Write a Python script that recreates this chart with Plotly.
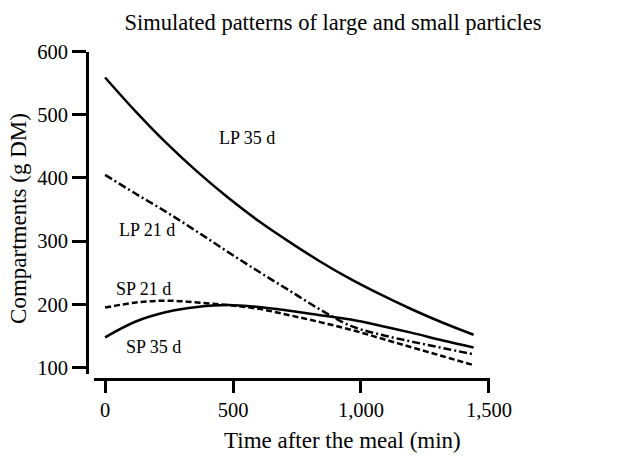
import plotly.graph_objects as go

time_min = [0, 120, 240, 360, 480, 600, 720, 840, 960, 1080, 1200, 1320, 1440]
lp35 = [559, 505, 455, 410, 369, 332, 299, 268, 240, 215, 192, 171, 152]
lp21 = [405, 375, 346, 315, 283, 252, 222, 192, 166, 152, 141, 131, 121]
sp21 = [195, 203, 206, 203, 199, 193, 183, 172, 160, 146, 132, 118, 104]
sp35 = [148, 173, 188, 196, 199, 196, 190, 183, 176, 166, 155, 143, 132]

x_ticks = [0, 500, 1000, 1500]
x_ticklabels = ["0", "500", "1,000", "1,500"]
y_ticks = [100, 200, 300, 400, 500, 600]

curve_labels = ["LP 35 d", "LP 21 d", "SP 21 d", "SP 35 d"]
label_x = [555, 165, 150, 190]
label_y = [463, 318, 224, 133]

FONT = "Liberation Serif"
W, H = 620, 462

fig = go.Figure()
series = [
    (lp35, "solid", "LP 35 d"),
    (lp21, "8px,3px,2px,3px", "LP 21 d"),
    (sp21, "6px,3px", "SP 21 d"),
    (sp35, "solid", "SP 35 d"),
]
for ys, dash, name in series:
    fig.add_trace(go.Scatter(
        x=time_min, y=ys, mode="lines", name=name,
        line=dict(color="black", width=2.5, dash=dash, shape="spline"),
        showlegend=False,
    ))

for t, lx, ly in zip(curve_labels, label_x, label_y):
    fig.add_annotation(x=lx, y=ly, text=t, showarrow=False,
                       font=dict(family=FONT, size=18, color="black"))

# axis titles placed as paper annotations
fig.add_annotation(x=355 / W, y=1 - 445 / H, xref="paper", yref="paper",
                   text="Time after the meal (min)", showarrow=False,
                   xanchor="center", yanchor="middle",
                   font=dict(family=FONT, size=23, color="black"))
fig.add_annotation(x=19 / W, y=1 - 215 / H, xref="paper", yref="paper",
                   text="Compartments (g DM)", showarrow=False, textangle=-90,
                   xanchor="center", yanchor="middle",
                   font=dict(family=FONT, size=23, color="black"))

fig.update_layout(
    width=W, height=H,
    margin=dict(l=0, r=0, t=0, b=0),
    paper_bgcolor="white", plot_bgcolor="white",
    title=dict(text="Simulated patterns of large and small particles",
               x=333 / W, xanchor="center", y=1 - 22 / H, yanchor="middle",
               font=dict(family=FONT, size=22.5, color="black")),
    xaxis=dict(
        domain=[97 / W, 508 / W], range=[-45, 1504],
        anchor="free", position=1 - 381 / H,
        showline=True, linecolor="black", linewidth=2.5,
        ticks="outside", ticklen=12, tickwidth=2.5, tickcolor="black",
        tickvals=x_ticks, ticktext=x_ticklabels,
        tickfont=dict(family=FONT, size=20.5, color="black"),
        showgrid=False, zeroline=False,
    ),
    yaxis=dict(
        domain=[1 - 376 / H, 1 - 42 / H], range=[90, 600],
        anchor="free", position=90 / W,
        showline=True, linecolor="black", linewidth=2.5,
        ticks="outside", ticklen=14, tickwidth=2.5, tickcolor="black",
        tickvals=y_ticks,
        tickfont=dict(family=FONT, size=20.5, color="black"),
        showgrid=False, zeroline=False,
    ),
)

fig.write_html("out.html")
